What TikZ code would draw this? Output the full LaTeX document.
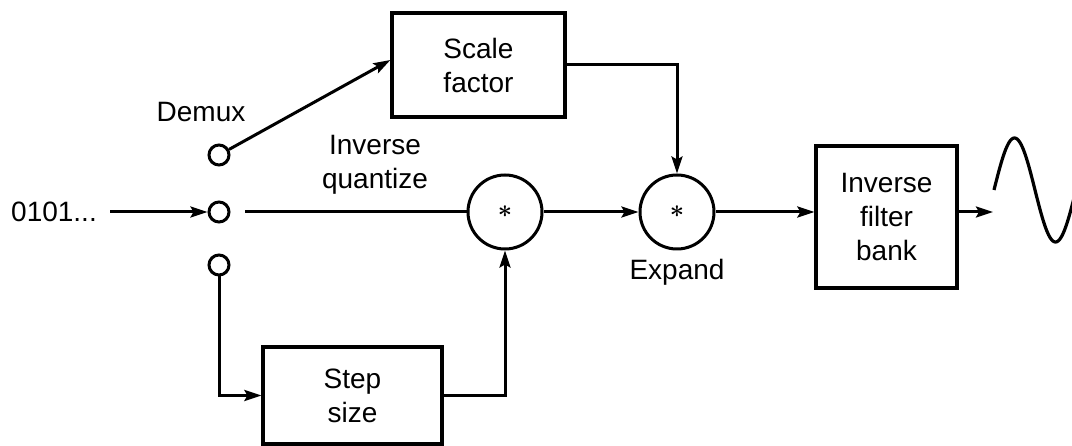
\documentclass[tikz,border=0pt]{standalone}
\usepackage{fontspec}
\setmainfont{Liberation Sans}
\usetikzlibrary{arrows.meta}
\begin{document}
\begin{tikzpicture}[x=1pt,y=-1pt,
  every node/.style={font=\fontsize{28}{34}\selectfont, align=center},
  conn/.style={line width=3pt},
  arr/.style={conn, -{Stealth[length=17pt,width=11pt,inset=3pt]}},
  blockbox/.style={draw, line width=3.2pt, rectangle, inner sep=0pt},
  port/.style={draw, line width=3pt, circle, minimum size=20pt, inner sep=0pt},
  mult/.style={draw, line width=3pt, circle, minimum size=74pt, inner sep=0pt, font=\fontsize{44}{44}\selectfont\boldmath},
  lbl/.style={inner sep=0pt}]
\useasboundingbox (0,0) rectangle (1072,446);
% boxes
\node[blockbox, minimum width=173pt, minimum height=104pt] (sf) at (478.5,65) {Scale\\factor};
\node[blockbox, minimum width=179pt, minimum height=97pt] (ss) at (352.5,395.5) {Step\\size};
\node[blockbox, minimum width=141pt, minimum height=142pt] (fb) at (886.5,217) {Inverse\\filter\\bank};
% demux ports
\node[port] (t) at (219,155) {};
\node[port] (m) at (219,212) {};
\node[port] (b) at (219,265) {};
% multipliers
\node[mult] (c1) at (505,212) {$\ast$};
\node[mult] (c2) at (677,212) {$\ast$};
% labels
\node[lbl] (bits) at (54,212) {0101...};
\node[lbl] (demux) at (201,112) {Demux};
\node[lbl] (iq) at (375,165) {Inverse\\quantize};
\node[lbl] (exp) at (677,272) {Expand};
% free ends
\coordinate (in) at (110,212);
\coordinate (sw) at (245,212);
\coordinate (out) at (993,212);
% connectors
\draw[arr] (in) -- (m);
\draw[conn] (sw) -- (c1);
\draw[arr] (t) -- ([yshift=5pt]sf.west);
\draw[arr] (sf.east) -| (c2.north);
\draw[arr] (b) |- (ss.west);
\draw[arr] (ss.east) -| (c1.south);
\draw[arr] (c1) -- (c2);
\draw[arr] (c2.east) -- (c2.east -| fb.west);
\draw[arr] (out -| fb.east) -- (out);
% output sine wave
\draw[line width=3.2pt] plot[domain=0:80, samples=80, smooth] ({994+\x},{190-52*sin(\x/82*360)});
\end{tikzpicture}
\end{document}
